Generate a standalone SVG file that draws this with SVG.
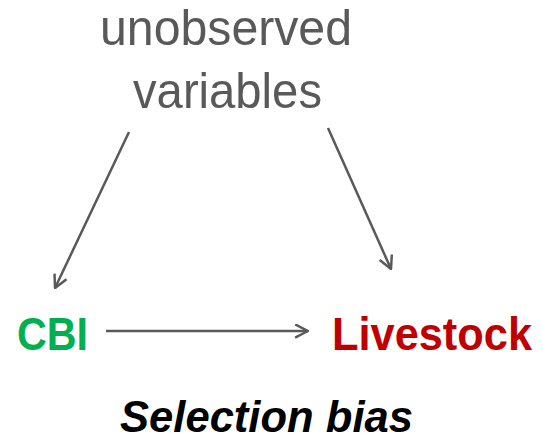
<svg xmlns="http://www.w3.org/2000/svg" width="543" height="445" viewBox="0 0 543 445">
<style>
.t{font-family:"Liberation Sans","Open Sans",sans-serif}
.top{fill:#595959;font-size:50px}
.node{font-size:46px;font-weight:bold}
.edge{stroke:#595959;stroke-width:2.5;fill:none}
</style>
<defs>
<marker id="ah" viewBox="0 0 14 14" refX="13" refY="7" markerWidth="15" markerHeight="15" markerUnits="userSpaceOnUse" orient="auto">
<path d="M1,0.8 L13,7 L1,13.2" fill="none" stroke="#595959" stroke-width="2.3"/>
</marker>
</defs>
<rect width="543" height="445" fill="#ffffff"/>
<g id="unobserved">
<text class="t top" x="100" y="45" textLength="252" lengthAdjust="spacingAndGlyphs">unobserved</text>
<text class="t top" x="133" y="108" textLength="189" lengthAdjust="spacingAndGlyphs">variables</text>
</g>
<g id="cbi">
<text class="t node" x="17" y="350" fill="#00B050" textLength="71" lengthAdjust="spacingAndGlyphs">CBI</text>
</g>
<g id="livestock">
<text class="t node" x="332" y="350" fill="#C00000" textLength="200" lengthAdjust="spacingAndGlyphs">Livestock</text>
</g>
<g id="caption">
<text class="t" x="120" y="432" font-size="45" font-weight="bold" font-style="italic" fill="#000" textLength="293" lengthAdjust="spacingAndGlyphs">Selection bias</text>
</g>
<g id="connectors">
<line class="edge" x1="129" y1="132" x2="55" y2="288" marker-end="url(#ah)"/>
<line class="edge" x1="328" y1="128" x2="391" y2="269" marker-end="url(#ah)"/>
<line class="edge" x1="106" y1="331" x2="308" y2="331" marker-end="url(#ah)"/>
</g>
</svg>
